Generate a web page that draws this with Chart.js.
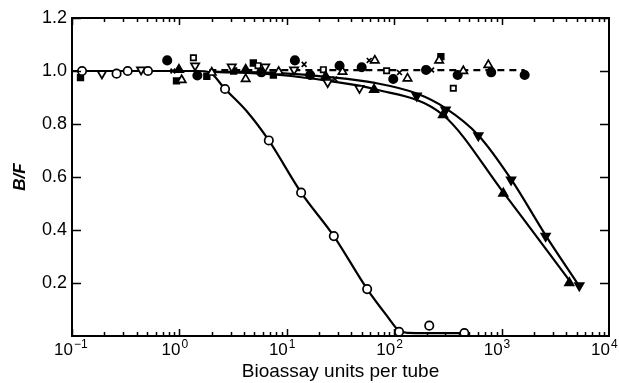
<!DOCTYPE html>
<html>
<head>
<meta charset="utf-8">
<script src="https://cdn.jsdelivr.net/npm/chart.js@4.4.1/dist/chart.umd.min.js"></script>
<style>
  html, body { margin: 0; padding: 0; background: #fff; }
  #wrap { width: 619px; height: 383px; }
</style>
</head>
<body>
<div id="wrap"><canvas id="chart"></canvas></div>
<script>
// Axis ticks
const xDecades = [0.1, 1, 10, 100, 1000, 10000];
const xExponents = ['\u22121', '0', '1', '2', '3', '4'];
const yTicks = [0.2, 0.4, 0.6, 0.8, 1.0, 1.2];

// Fitted curves
const steepCurveX = [0.1, 0.5, 1.5, 1.9, 2.66, 4.2, 6.8, 13.6, 27.4, 56, 86, 111, 135, 200, 450];
const steepCurveY = [1.0, 1.0, 1.0, 0.995, 0.932, 0.85, 0.738, 0.541, 0.377, 0.177, 0.075, 0.02, 0.012, 0.011, 0.011];

const downCurveX = [1.9, 8.6, 25, 66, 162, 300, 607, 1225, 2570, 5290];
const downCurveY = [0.998, 0.992, 0.977, 0.955, 0.915, 0.86, 0.758, 0.592, 0.38, 0.188];

const upCurveX = [1.9, 8.6, 25, 65, 285, 1037, 4270];
const upCurveY = [0.998, 0.985, 0.962, 0.932, 0.834, 0.542, 0.21];

const flatDashX = [1.9, 1640];
const flatDashY = [1.003, 1.003];

// Markers
const openCircleX = [0.124, 0.26, 0.33, 0.51, 2.66, 6.8, 13.6, 27.4, 56, 111, 212, 450];
const openCircleY = [1.0, 0.99, 1.0, 1.0, 0.932, 0.738, 0.541, 0.377, 0.177, 0.016, 0.039, 0.011];

const openDownTriX = [0.19, 0.44, 1.4, 3.07, 6.3, 11.7, 24, 47.5];
const openDownTriY = [0.99, 1.005, 1.02, 1.016, 1.016, 1.005, 0.957, 0.935];

const filledDownTriX = [162, 301, 607, 1225, 2570, 5290];
const filledDownTriY = [0.906, 0.853, 0.756, 0.589, 0.377, 0.19];

const filledUpTriX = [0.99, 4.14, 23, 65, 285, 1037, 4270];
const filledUpTriY = [1.005, 1.005, 0.98, 0.93, 0.834, 0.538, 0.2];

const openUpTriX = [1.05, 2.0, 4.14, 8.4, 33, 66, 133, 262, 440, 752];
const openUpTriY = [0.966, 0.994, 0.97, 0.997, 0.997, 1.04, 0.972, 1.04, 1.0, 1.023];

const filledCircleX = [0.77, 1.47, 5.8, 11.9, 16.5, 31, 49.8, 98, 198, 390, 800, 1640];
const filledCircleY = [1.04, 0.983, 0.995, 1.04, 0.985, 1.02, 1.014, 0.97, 1.004, 0.985, 0.995, 0.985];

const openSquareX = [1.35, 5.4, 21.9, 85, 355];
const openSquareY = [1.05, 1.02, 1.005, 1.001, 0.935];

const filledSquareX = [0.12, 0.94, 1.8, 3.2, 4.88, 7.5, 272];
const filledSquareY = [0.975, 0.963, 0.98, 1.0, 1.03, 0.985, 1.054];

const crossX = [0.87, 14.5, 28, 58.5, 112, 223];
const crossY = [1.0, 1.025, 0.97, 1.04, 0.994, 1.004];

const FONT = 'Liberation Sans, Arial, sans-serif';

function pts(xs, ys) {
    return xs.map((x, i) => ({ x: x, y: ys[i] }));
}

function curve(xs, ys, dash) {
    return {
        data: pts(xs, ys),
        showLine: true,
        borderColor: '#000',
        borderWidth: 2.2,
        borderDash: dash || [],
        pointRadius: 0,
        cubicInterpolationMode: 'monotone',
        fill: false,
        order: 10
    };
}

function markers(xs, ys, style, filled, rotation, radius) {
    return {
        data: pts(xs, ys),
        showLine: false,
        pointStyle: style,
        pointRotation: rotation || 0,
        pointRadius: radius || 4.2,
        pointBorderColor: '#000',
        pointBackgroundColor: filled ? '#000' : '#fff',
        pointBorderWidth: 1.7,
        order: 1
    };
}

// Inside tick marks, frame and power-of-ten labels, placed through the chart's own scales
const frameTicks = {
    id: 'frameTicks',
    afterDatasetsDraw(chart) {
        const { ctx, chartArea: a, scales } = chart;
        const xs = scales.x, ys = scales.y;
        ctx.save();
        ctx.strokeStyle = '#000';
        ctx.lineWidth = 2;
        ctx.strokeRect(a.left, a.top, a.right - a.left, a.bottom - a.top);
        ctx.lineWidth = 1.5;
        ctx.beginPath();
        yTicks.forEach(v => {
            const y = Math.round(ys.getPixelForValue(v)) + 0.5;
            ctx.moveTo(a.left, y); ctx.lineTo(a.left + 9, y);
            ctx.moveTo(a.right, y); ctx.lineTo(a.right - 9, y);
        });
        xDecades.forEach((d, i) => {
            if (i === xDecades.length - 1) return;
            for (let m = 1; m <= 9; m++) {
                const x = Math.round(xs.getPixelForValue(d * m)) + 0.5;
                const len = m === 1 ? 7 : 4;
                ctx.moveTo(x, a.bottom); ctx.lineTo(x, a.bottom - len);
                ctx.moveTo(x, a.top); ctx.lineTo(x, a.top + len);
            }
        });
        ctx.stroke();

        // "10" ends at the tick, the exponent sits just right of it
        ctx.fillStyle = '#000';
        ctx.textBaseline = 'alphabetic';
        xDecades.forEach((d, i) => {
            const x = xs.getPixelForValue(d);
            ctx.font = '17px ' + FONT;
            ctx.textAlign = 'right';
            ctx.fillText('10', x + 1, a.bottom + 19);
            ctx.font = '12px ' + FONT;
            ctx.textAlign = 'left';
            ctx.fillText(xExponents[i], x + 2, a.bottom + 12);
        });
        ctx.restore();
    }
};

new Chart(document.getElementById('chart'), {
    type: 'scatter',
    data: {
        datasets: [
            markers(openCircleX, openCircleY, 'circle', false),
            markers(openDownTriX, openDownTriY, 'triangle', false, 180, 4.8),
            markers(filledDownTriX, filledDownTriY, 'triangle', true, 180, 5),
            markers(filledUpTriX, filledUpTriY, 'triangle', true, 0, 5),
            markers(openUpTriX, openUpTriY, 'triangle', false, 0, 4.8),
            markers(filledCircleX, filledCircleY, 'circle', true),
            markers(openSquareX, openSquareY, 'rect', false, 0, 3.8),
            markers(filledSquareX, filledSquareY, 'rect', true, 0, 4),
            markers(crossX, crossY, 'crossRot', false, 0, 3.4),
            curve(steepCurveX, steepCurveY),
            curve(downCurveX, downCurveY),
            curve(upCurveX, upCurveY),
            curve(flatDashX, flatDashY, [7, 5])
        ]
    },
    options: {
        responsive: true,
        maintainAspectRatio: false,
        animation: false,
        layout: { padding: { top: 18, right: 10, bottom: 0, left: 0 } },
        plugins: {
            legend: { display: false },
            tooltip: { enabled: false }
        },
        scales: {
            x: {
                type: 'logarithmic',
                min: 0.1,
                max: 10000,
                grid: { display: false, drawTicks: false },
                border: { display: false },
                afterFit(scale) { scale.height = 47; },
                ticks: { display: false },
                title: {
                    display: true,
                    text: 'Bioassay units per tube',
                    color: '#000',
                    padding: { top: 0, bottom: 0 },
                    font: { family: FONT, size: 19 }
                }
            },
            y: {
                min: 0,
                max: 1.2,
                grid: { display: false, drawTicks: false },
                border: { display: false },
                afterFit(scale) { scale.width = 72; },
                ticks: {
                    stepSize: 0.2,
                    padding: 5,
                    color: '#000',
                    font: { family: FONT, size: 18 },
                    callback(v) { return v === 0 ? '' : v.toFixed(1); }
                },
                title: {
                    display: true,
                    text: 'B/F',
                    color: '#000',
                    padding: { top: 10, bottom: 0 },
                    font: { family: FONT, size: 17, style: 'italic', weight: 'bold' }
                }
            }
        }
    },
    plugins: [frameTicks]
});
</script>
</body>
</html>
